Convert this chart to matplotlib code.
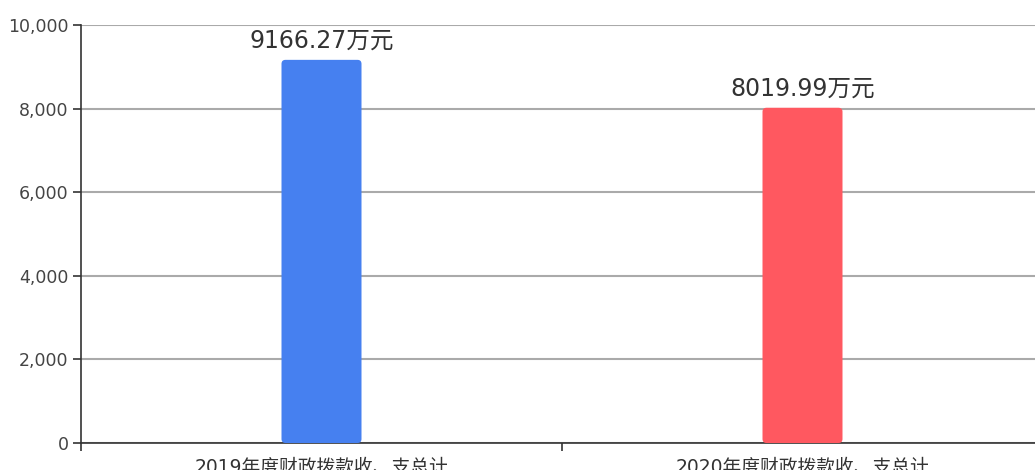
import matplotlib
matplotlib.use("Agg")
import matplotlib.pyplot as plt
from matplotlib.patches import FancyBboxPatch
from matplotlib.ticker import FuncFormatter

plt.rcParams['font.family'] = ['DejaVu Sans', 'Noto Sans CJK SC']

# ========================
# DATA
# ========================

categories = ["2019年度财政拨款收、支总计", "2020年度财政拨款收、支总计"]
values = [9166.27, 8019.99]
value_labels = ["9166.27万元", "8019.99万元"]
colors = ["#4680F0", "#FF5860"]

# ========================
# FIGURE
# ========================

fig = plt.figure(figsize=(10.35, 4.7), dpi=100)
ax = fig.add_axes([81 / 1035, 27 / 470, 962 / 1035, 418 / 470])

ax.set_xlim(-0.5, len(categories) - 0.5)
ax.set_ylim(0, 10000)

bar_w = 80 / 481
radius = 4 / 481
aspect = (10000 / 418) / (1 / 481)

for i, (v, c) in enumerate(zip(values, colors)):
    patch = FancyBboxPatch(
        (i - bar_w / 2 + radius, radius * aspect),
        bar_w - 2 * radius,
        v - 2 * radius * aspect,
        boxstyle="round,pad=%f" % radius,
        mutation_aspect=aspect,
        facecolor=c,
        edgecolor="none",
        zorder=3,
    )
    ax.add_patch(patch)
    ax.text(i, v + 180, value_labels[i], ha='center', va='bottom',
            fontsize=17, color='#333333', zorder=4)

# grid
ax.set_yticks([0, 2000, 4000, 6000, 8000, 10000])
ax.yaxis.set_major_formatter(FuncFormatter(lambda y, p: f"{int(y):,}"))
ax.grid(axis='y', color='#aaaaaa', linewidth=1.5, zorder=0)

ax.set_xticks([-0.5, 0.5, 1.5], minor=False)
ax.set_xticklabels(["", "", ""])
ax.set_xticks(range(len(categories)), minor=True)
ax.set_xticklabels(categories, minor=True, fontsize=13.5, color='#333333')
ax.tick_params(axis='x', which='minor', length=0, pad=10)
ax.tick_params(axis='x', which='major', length=6, width=1.2, color='#333333')
ax.tick_params(axis='y', length=6, width=1.2, color='#333333',
               labelsize=12.5, labelcolor='#444444', pad=3)

for side in ['top', 'right']:
    ax.spines[side].set_visible(False)
for side in ['left', 'bottom']:
    ax.spines[side].set_color('#333333')
    ax.spines[side].set_linewidth(1.2)

fig.savefig("out.png", dpi=100)
